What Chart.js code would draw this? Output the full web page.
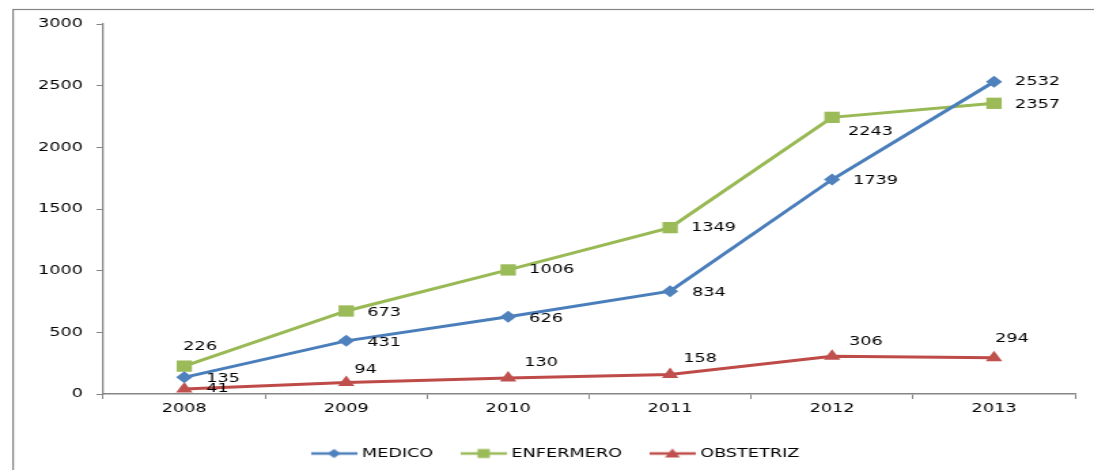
<!DOCTYPE html>
<html>
<head>
<meta charset="utf-8">
<script src="https://cdn.jsdelivr.net/npm/chart.js@4/dist/chart.umd.min.js"></script>
<style>
  html, body { margin: 0; padding: 0; background: #fff; overflow: hidden; }
  #chart { display: block; transform-origin: 0 0; }
</style>
</head>
<body>
<canvas id="chart" width="805" height="470"></canvas>
<script>
// data
const years = ["2008", "2009", "2010", "2011", "2012", "2013"];
const medico = [135, 431, 626, 834, 1739, 2532];
const enfermero = [226, 673, 1006, 1349, 2243, 2357];
const obstetriz = [41, 94, 130, 158, 306, 294];
const yMin = 0;
const yMax = 3000;
const yStep = 500;

// the original picture is stretched sideways, so draw narrow and stretch the canvas
const SX = 1094 / 805;
document.getElementById("chart").style.transform = "scaleX(" + SX + ")";

const FONT = "'DejaVu Sans', Verdana, sans-serif";
const AXIS = "#868686";

// label offsets in picture pixels: [dx to left edge, dy to centre]
const labelOffsets = [
    [[22, 1], [21, 2], [21, 2], [22, 1], [21, 1], [21, 0]],
    [[-1, -20], [21, 2], [21, 0], [21, 0], [16, 14], [21, 1]],
    [[22, 0], [8, -13], [16, -15], [13, -16], [17, -15], [1, -19]],
];

function legendIcon(kind, line, fill) {
    const c = document.createElement("canvas");
    c.width = 34;
    c.height = 14;
    const ctx = c.getContext("2d");
    ctx.strokeStyle = line;
    ctx.lineWidth = 2.5;
    ctx.beginPath();
    ctx.moveTo(0, 7);
    ctx.lineTo(34, 7);
    ctx.stroke();
    ctx.fillStyle = fill;
    ctx.beginPath();
    if (kind === "diamond") {
        ctx.moveTo(17, 2.5);
        ctx.lineTo(22, 7);
        ctx.lineTo(17, 11.5);
        ctx.lineTo(12, 7);
    } else if (kind === "square") {
        ctx.rect(12.5, 2.5, 9, 9);
    } else {
        ctx.moveTo(17, 2);
        ctx.lineTo(22.5, 11);
        ctx.lineTo(11.5, 11);
    }
    ctx.closePath();
    ctx.fill();
    return c;
}

const icons = [
    legendIcon("diamond", "#4A7EBB", "#4F81BD"),
    legendIcon("square", "#98B954", "#9BBB59"),
    legendIcon("triangle", "#BE4B48", "#C0504D"),
];

const frame = {
    id: "frame",
    beforeDraw(chart) {
        const ctx = chart.ctx;
        ctx.save();
        ctx.strokeStyle = AXIS;
        ctx.lineWidth = 1.2;
        ctx.strokeRect(9.6, 9.5, chart.width + 20, chart.height + 20);
        ctx.restore();
    },
};

const valueLabels = {
    id: "valueLabels",
    afterDatasetsDraw(chart) {
        const ctx = chart.ctx;
        ctx.save();
        ctx.font = "13px " + FONT;
        ctx.fillStyle = "#000";
        ctx.textAlign = "left";
        ctx.textBaseline = "middle";
        chart.data.datasets.forEach((ds, i) => {
            const meta = chart.getDatasetMeta(i);
            meta.data.forEach((pt, j) => {
                const off = labelOffsets[i][j];
                ctx.fillText(String(ds.data[j]), pt.x + off[0] / SX, pt.y + off[1]);
            });
        });
        ctx.restore();
    },
};

new Chart(document.getElementById("chart"), {
    type: "line",
    data: {
        labels: years,
        datasets: [
            {
                label: "MEDICO",
                data: medico,
                borderColor: "#4A7EBB",
                backgroundColor: "#4F81BD",
                pointStyle: "rectRot",
                pointRadius: 6,
                pointBorderWidth: 0,
                borderWidth: 3,
            },
            {
                label: "ENFERMERO",
                data: enfermero,
                borderColor: "#98B954",
                backgroundColor: "#9BBB59",
                pointStyle: "rect",
                pointRadius: 8,
                pointBorderWidth: 0,
                borderWidth: 3,
            },
            {
                label: "OBSTETRIZ",
                data: obstetriz,
                borderColor: "#BE4B48",
                backgroundColor: "#C0504D",
                pointStyle: "triangle",
                pointRadius: 7,
                pointBorderWidth: 0,
                borderWidth: 3,
            },
        ],
    },
    options: {
        responsive: false,
        animation: false,
        clip: false,
        layout: {
            padding: { left: 29, right: 14, top: 24, bottom: 0 },
        },
        scales: {
            x: {
                offset: true,
                grid: {
                    offset: true,
                    drawOnChartArea: false,
                    drawTicks: true,
                    tickLength: 5,
                    color: AXIS,
                    lineWidth: 1,
                },
                border: { color: AXIS, width: 1.5 },
                ticks: {
                    color: "#000",
                    padding: 2,
                    font: { family: FONT, size: 13 },
                    maxRotation: 0,
                },
                afterFit: (s) => { s.height = 30; },
            },
            y: {
                min: yMin,
                max: yMax,
                grid: {
                    drawOnChartArea: false,
                    drawTicks: true,
                    tickLength: 5,
                    color: AXIS,
                    lineWidth: 1,
                },
                border: { color: AXIS, width: 1.3 },
                ticks: {
                    stepSize: yStep,
                    color: "#000",
                    padding: 10,
                    font: { family: FONT, size: 13 },
                    callback: (v) => String(v),
                },
                afterFit: (s) => { s.width = 47; },
            },
        },
        plugins: {
            legend: {
                position: "bottom",
                labels: {
                    usePointStyle: true,
                    pointStyleWidth: 28,
                    boxHeight: 13,
                    padding: 23,
                    color: "#000",
                    font: { family: FONT, size: 13 },
                    generateLabels: (chart) =>
                        chart.data.datasets.map((ds, i) => ({
                            text: ds.label,
                            pointStyle: icons[i],
                            fillStyle: ds.backgroundColor,
                            strokeStyle: ds.borderColor,
                            lineWidth: 0,
                            hidden: false,
                            datasetIndex: i,
                        })),
                },
            },
            tooltip: { enabled: false },
        },
    },
    plugins: [frame, valueLabels],
});
</script>
</body>
</html>
